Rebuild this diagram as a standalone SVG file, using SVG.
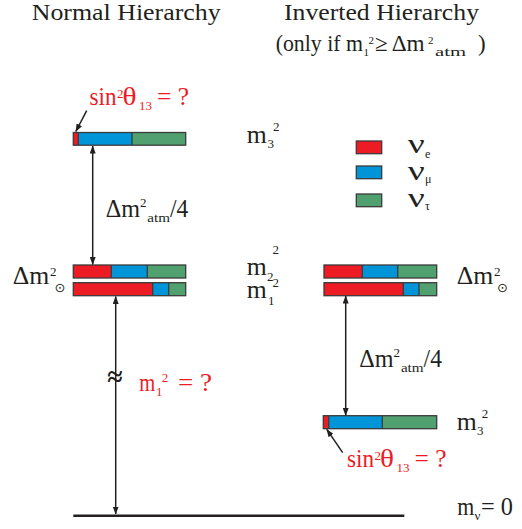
<svg xmlns="http://www.w3.org/2000/svg" width="522" height="529" viewBox="0 0 522 529" font-family="Liberation Serif, serif">
<style>
.tx{font-family:Liberation Serif,serif;fill:#231f20}
.t{font-family:Liberation Serif,serif;font-size:23px;fill:#231f20}
.lab{font-family:Liberation Serif,serif;font-size:25px;fill:#231f20}
.sm{font-size:13px}
.rd{fill:#ed1c24}
.r{fill:#ed1c24}
.b{fill:#0095d9}
.g{fill:#50a070}
.o{fill:none;stroke:#3a3a3a;stroke-width:1.3}
.sep{stroke:#3a3a3a;stroke-width:1.3}
.ar{stroke:#231f20;stroke-width:1.5;fill:none}
.sun{font-family:DejaVu Sans,sans-serif;font-size:13px}
</style>
<defs>
<marker id="ah" markerUnits="userSpaceOnUse" markerWidth="8" markerHeight="6" refX="7.5" refY="3" orient="auto-start-reverse">
<path d="M0,0 L8,3 L0,6 z" fill="#231f20"/>
</marker>
</defs>
<rect width="522" height="529" fill="#fff"/>

<g id="titles">
<text class="t" x="31.7" y="19.5" textLength="189" lengthAdjust="spacingAndGlyphs">Normal Hierarchy</text>
<text class="t" x="284" y="19.5" textLength="195" lengthAdjust="spacingAndGlyphs">Inverted Hierarchy</text>
<text class="t"><tspan x="275.7" y="51" textLength="87.3" lengthAdjust="spacingAndGlyphs">(only if m</tspan><tspan font-size="11" x="363.5" y="55.5">1</tspan><tspan font-size="11" x="368.5" y="44">2</tspan><tspan x="375" y="51">≥</tspan><tspan x="391.7" y="51" textLength="33" lengthAdjust="spacingAndGlyphs">Δm</tspan><tspan font-size="11" x="428" y="44">2</tspan><tspan font-size="13" x="435" y="55.7" textLength="31" lengthAdjust="spacingAndGlyphs">atm</tspan><tspan x="478" y="51">)</tspan></text>
</g>

<g id="normal-m3">
<rect class="r" x="73.3" y="132.5" width="5" height="12.7"/>
<rect class="b" x="78.3" y="132.5" width="53.7" height="12.7"/>
<rect class="g" x="132" y="132.5" width="53.7" height="12.7"/>
<line class="sep" x1="78.3" y1="132.5" x2="78.3" y2="145.2"/>
<line class="sep" x1="132" y1="132.5" x2="132" y2="145.2"/>
<rect class="o" x="73.3" y="132.5" width="112.4" height="12.7"/>
</g>
<g id="normal-m2">
<rect class="r" x="73.3" y="265" width="38" height="13"/>
<rect class="b" x="111.3" y="265" width="36" height="13"/>
<rect class="g" x="147.3" y="265" width="38.4" height="13"/>
<line class="sep" x1="111.3" y1="265" x2="111.3" y2="278"/>
<line class="sep" x1="147.3" y1="265" x2="147.3" y2="278"/>
<rect class="o" x="73.3" y="265" width="112.4" height="13"/>
</g>
<g id="normal-m1">
<rect class="r" x="73.3" y="282.7" width="79.4" height="13"/>
<rect class="b" x="152.7" y="282.7" width="16" height="13"/>
<rect class="g" x="168.7" y="282.7" width="17" height="13"/>
<line class="sep" x1="152.7" y1="282.7" x2="152.7" y2="295.7"/>
<line class="sep" x1="168.7" y1="282.7" x2="168.7" y2="295.7"/>
<rect class="o" x="73.3" y="282.7" width="112.4" height="13"/>
</g>
<g id="inverted-m2">
<rect class="r" x="324" y="265" width="38.3" height="13"/>
<rect class="b" x="362.3" y="265" width="35.4" height="13"/>
<rect class="g" x="397.7" y="265" width="39" height="13"/>
<line class="sep" x1="362.3" y1="265" x2="362.3" y2="278"/>
<line class="sep" x1="397.7" y1="265" x2="397.7" y2="278"/>
<rect class="o" x="324" y="265" width="112.7" height="13"/>
</g>
<g id="inverted-m1">
<rect class="r" x="324" y="282.7" width="79.3" height="13"/>
<rect class="b" x="403.3" y="282.7" width="15.7" height="13"/>
<rect class="g" x="419" y="282.7" width="17.7" height="13"/>
<line class="sep" x1="403.3" y1="282.7" x2="403.3" y2="295.7"/>
<line class="sep" x1="419" y1="282.7" x2="419" y2="295.7"/>
<rect class="o" x="324" y="282.7" width="112.7" height="13"/>
</g>
<g id="inverted-m3">
<rect class="r" x="323.3" y="415.7" width="5.4" height="13"/>
<rect class="b" x="328.7" y="415.7" width="53.6" height="13"/>
<rect class="g" x="382.3" y="415.7" width="54.4" height="13"/>
<line class="sep" x1="328.7" y1="415.7" x2="328.7" y2="428.7"/>
<line class="sep" x1="382.3" y1="415.7" x2="382.3" y2="428.7"/>
<rect class="o" x="323.3" y="415.7" width="113.4" height="13"/>
</g>

<g id="legend">
<rect class="r" x="356.3" y="141" width="25.4" height="12.7"/><rect class="o" x="356.3" y="141" width="25.4" height="12.7"/>
<rect class="b" x="356.3" y="166" width="25.4" height="12.7"/><rect class="o" x="356.3" y="166" width="25.4" height="12.7"/>
<rect class="g" x="356.3" y="194" width="25.4" height="12.7"/><rect class="o" x="356.3" y="194" width="25.4" height="12.7"/>
<text class="tx" font-size="28"><tspan x="407.7" y="153.3" textLength="17" lengthAdjust="spacingAndGlyphs">ν</tspan><tspan x="425" y="158" font-size="12">e</tspan></text>
<text class="tx" font-size="28"><tspan x="407.7" y="180" textLength="17" lengthAdjust="spacingAndGlyphs">ν</tspan><tspan x="425" y="183" font-size="12">μ</tspan></text>
<text class="tx" font-size="28"><tspan x="407.7" y="207.3" textLength="17" lengthAdjust="spacingAndGlyphs">ν</tspan><tspan x="425" y="209.5" font-size="12">τ</tspan></text>
</g>

<g id="labels">
<text class="lab"><tspan x="246.7" y="143.3" textLength="20" lengthAdjust="spacingAndGlyphs">m</tspan><tspan class="sm" x="267.5" y="148">3</tspan><tspan class="sm" x="273" y="130.5">2</tspan></text>
<text class="lab"><tspan x="246.7" y="275" textLength="20" lengthAdjust="spacingAndGlyphs">m</tspan><tspan class="sm" x="267" y="281">2</tspan><tspan class="sm" x="272.5" y="253.5">2</tspan></text>
<text class="lab"><tspan x="246.7" y="298.3" textLength="20" lengthAdjust="spacingAndGlyphs">m</tspan><tspan class="sm" x="268" y="305">1</tspan><tspan class="sm" x="272.5" y="286.5">2</tspan></text>
<text class="lab"><tspan x="456.7" y="430" textLength="20" lengthAdjust="spacingAndGlyphs">m</tspan><tspan class="sm" x="477" y="435">3</tspan><tspan class="sm" x="481.7" y="417.5">2</tspan></text>
<text class="lab"><tspan x="457.3" y="515" textLength="17" lengthAdjust="spacingAndGlyphs">m</tspan><tspan class="sm" x="474.5" y="519.5">ν</tspan><tspan x="481" y="515" textLength="32" lengthAdjust="spacingAndGlyphs">= 0</tspan></text>

<text class="lab"><tspan x="12.7" y="284.3" textLength="36.5" lengthAdjust="spacingAndGlyphs">Δm</tspan><tspan class="sm" x="50" y="275.5">2</tspan><tspan class="sun" x="54.5" y="292">⊙</tspan></text>
<text class="lab"><tspan x="456.7" y="284.3" textLength="36.5" lengthAdjust="spacingAndGlyphs">Δm</tspan><tspan class="sm" x="494" y="275.5">2</tspan><tspan class="sun" x="497" y="292">⊙</tspan></text>

<text class="lab"><tspan x="105.7" y="216.7" textLength="34.3" lengthAdjust="spacingAndGlyphs">Δm</tspan><tspan class="sm" x="140" y="206.7">2</tspan><tspan class="sm" x="147.3" y="221.7" textLength="22.7" lengthAdjust="spacingAndGlyphs">atm</tspan><tspan x="170" y="216.7" textLength="18.3" lengthAdjust="spacingAndGlyphs">/4</tspan></text>
<text class="lab"><tspan x="359.3" y="367.3" textLength="34.3" lengthAdjust="spacingAndGlyphs">Δm</tspan><tspan class="sm" x="393.6" y="357.3">2</tspan><tspan class="sm" x="400.9" y="372.3" textLength="22.7" lengthAdjust="spacingAndGlyphs">atm</tspan><tspan x="423.6" y="367.3" textLength="18.3" lengthAdjust="spacingAndGlyphs">/4</tspan></text>

<text class="lab rd"><tspan x="139.3" y="390.7" textLength="16" lengthAdjust="spacingAndGlyphs">m</tspan><tspan class="sm" x="156" y="395.5">1</tspan><tspan class="sm" x="161.7" y="382">2</tspan><tspan x="178" y="390.7" textLength="34" lengthAdjust="spacingAndGlyphs">= ?</tspan></text>

<text class="lab rd"><tspan x="89.5" y="105" textLength="27" lengthAdjust="spacingAndGlyphs">sin</tspan><tspan class="sm" x="117" y="97.5">2</tspan><tspan x="122.5" y="105" textLength="14" lengthAdjust="spacingAndGlyphs">θ</tspan><tspan class="sm" x="139" y="109.5" textLength="13" lengthAdjust="spacingAndGlyphs">13</tspan><tspan x="157" y="105" textLength="32" lengthAdjust="spacingAndGlyphs">= ?</tspan></text>
<text class="lab rd"><tspan x="347" y="467" textLength="27" lengthAdjust="spacingAndGlyphs">sin</tspan><tspan class="sm" x="374.5" y="459.5">2</tspan><tspan x="380" y="467" textLength="14" lengthAdjust="spacingAndGlyphs">θ</tspan><tspan class="sm" x="396.5" y="471.5" textLength="13" lengthAdjust="spacingAndGlyphs">13</tspan><tspan x="414.5" y="467" textLength="32" lengthAdjust="spacingAndGlyphs">= ?</tspan></text>
</g>

<g id="connectors">
<line class="ar" x1="92.7" y1="146" x2="92.7" y2="264.5" marker-start="url(#ah)" marker-end="url(#ah)"/>
<line class="ar" x1="115.7" y1="296.5" x2="115.7" y2="514" marker-start="url(#ah)" marker-end="url(#ah)"/>
<line class="ar" x1="345.7" y1="296" x2="345.7" y2="415.5" marker-start="url(#ah)" marker-end="url(#ah)"/>
<line class="ar" x1="86.7" y1="110.7" x2="75.8" y2="131.5" marker-end="url(#ah)"/>
<line class="ar" x1="342.7" y1="452.7" x2="326.8" y2="429.3" marker-end="url(#ah)"/>
<line x1="73.3" y1="515.7" x2="404.3" y2="515.7" stroke="#231f20" stroke-width="2.4"/>
<text class="tx" x="115" y="386" font-size="28" font-weight="bold" text-anchor="middle">≈</text>
</g>
</svg>
